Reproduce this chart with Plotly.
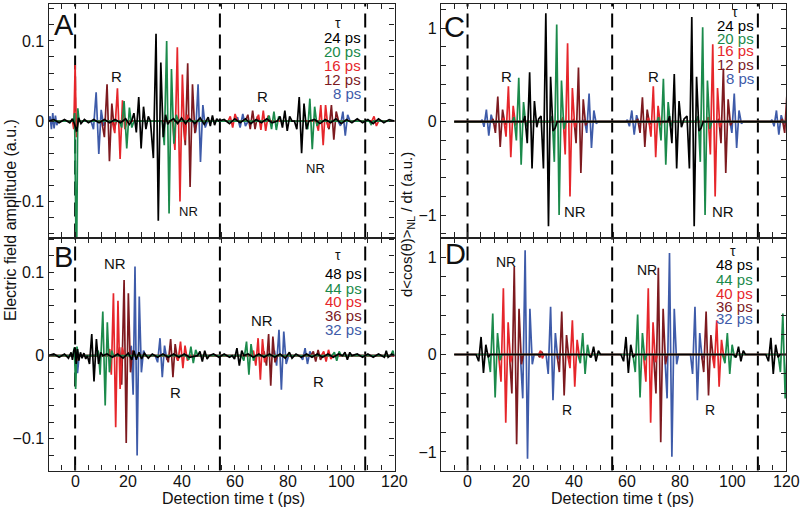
import plotly.graph_objects as go

W, H = 802, 510
FONT = "Liberation Sans, Arial, Helvetica, sans-serif"

# ---------------- colours / labels ----------------
COLORS = ["#3e5ba9", "#7d1a1f", "#e6262b", "#1b8a4b", "#000000"]   # drawn in this order
TAU_TOP = ["8 ps", "12 ps", "16 ps", "20 ps", "24 ps"]
TAU_BOT = ["32 ps", "36 ps", "40 ps", "44 ps", "48 ps"]

X_TICKS = list(range(-10, 121, 5))
X_LABEL_VALS = [0, 20, 40, 60, 80, 100, 120]
X_LABELS = ["0", "20", "40", "60", "80", "100", "120"]
Y_TICKS_L = [-0.14, -0.12, -0.10, -0.08, -0.06, -0.04, -0.02, 0.0, 0.02, 0.04, 0.06, 0.08, 0.10, 0.12, 0.14]
Y_LABELS_L = {-0.10: "\u22120.1", 0.0: "0", 0.10: "0.1"}
Y_TICKS_R = [-1.2, -1.0, -0.8, -0.6, -0.4, -0.2, 0.0, 0.2, 0.4, 0.6, 0.8, 1.0, 1.2]
Y_LABELS_R = {-1.0: "\u22121", 0.0: "0", 1.0: "1"}

DASH_L = [0, 54.4, 109.0]
DASH_R = [0, 54.5, 109.4]

# ---------------- panel A (experiment, tau = 8..24 ps) ----------------
A8 = [(-10, 0), (-9.4, 0.006), (-8.9, -0.01), (-8.4, 0.01), (-7.9, -0.009), (-7.4, 0.007), (-6.9, -0.005), (-6.3, 0),
      (-0.5, 0), (0.1, 0.01), (0.6, -0.008), (1.1, 0),
      (6.0, 0), (6.9, -0.01), (7.9, 0.036), (8.9, -0.041), (9.8, 0.014), (10.7, -0.006), (11.5, 0),
      (44.4, 0), (45.3, -0.014), (46.2, 0.046), (47.1, -0.051), (48.0, 0.02), (48.9, -0.008), (49.7, 0),
      (60.0, 0), (61.0, 0.005), (62.0, -0.008), (63.0, 0.009), (64.0, -0.006), (65.0, 0),
      (98.8, 0), (99.7, -0.006), (100.6, 0.012), (101.5, -0.018), (102.4, 0.008), (103.3, 0), (120, 0)]
A12 = [(-10, 0), (10.0, 0), (11.0, -0.02), (12.0, 0.046), (12.9, -0.05), (13.8, 0.022), (14.7, -0.01), (15.5, 0),
       (40.6, 0), (41.4, -0.03), (42.3, 0.072), (43.2, -0.082), (44.1, 0.046), (45.0, -0.015), (45.8, 0),
       (64.0, 0), (64.9, 0.008), (65.8, -0.01), (66.7, 0.013), (67.6, -0.01), (68.5, 0.006), (69.4, 0),
       (94.5, 0), (95.4, -0.01), (96.3, 0.02), (97.2, -0.023), (98.1, 0.012), (99.0, 0), (120, 0)]
A16 = [(-10, 0), (-1.0, 0), (-0.5, -0.01), (0.0, 0.07), (0.5, -0.02), (1.0, 0),
       (13.9, 0), (14.9, -0.015), (15.9, 0.041), (16.9, -0.047), (17.8, 0.026), (18.7, -0.01), (19.5, 0),
       (36.6, 0), (37.5, -0.036), (38.4, 0.092), (39.4, -0.1), (40.3, 0.058), (41.2, -0.024), (42.1, 0.008), (43.0, 0),
       (57.5, 0), (58.3, 0.006), (59.2, -0.008), (60.1, 0.009), (61.0, 0),
       (68.0, 0), (68.9, 0.008), (69.8, -0.011), (70.7, 0.013), (71.6, -0.012), (72.5, 0.007), (73.4, 0),
       (90.5, 0), (91.4, -0.012), (92.3, 0.02), (93.2, -0.03), (94.1, 0.02), (95.0, -0.008), (95.9, 0),
       (111.5, 0), (112.3, 0.006), (113.2, -0.006), (114.0, 0), (120, 0)]
A20 = [(-10, 0), (-0.6, 0), (-0.2, 0.01), (0.5, -0.2), (1.0, 0.016), (1.5, 0),
       (16.6, 0), (17.5, -0.008), (18.4, 0.025), (19.4, -0.034), (20.4, 0.017), (21.3, -0.008), (22.1, 0),
       (32.7, 0), (33.5, -0.03), (34.4, 0.1), (35.3, -0.115), (36.2, 0.065), (37.1, -0.028), (38.0, 0.008), (38.8, 0),
       (72.0, 0), (72.9, 0.007), (73.8, -0.01), (74.7, 0.012), (75.6, -0.011), (76.5, 0.006), (77.4, 0),
       (86.5, 0), (87.4, -0.01), (88.2, 0.028), (89.1, -0.035), (90.0, 0.018), (90.9, -0.006), (91.8, 0),
       (110.5, 0), (111.2, -0.004), (112.0, 0), (120, 0)]
A24 = [(-10, 0), (-8, 0.002), (-6, -0.002), (-4, 0.002), (-2, -0.002), (-1, 0.003), (-0.3, -0.003), (0.6, -0.013),
       (1.3, 0.004), (2.2, -0.003), (3.5, 0.002), (5, -0.002), (7, 0.002), (9, -0.002), (11, 0.002), (13, -0.002),
       (15, 0.002), (17, -0.002), (19, 0.003), (20.4, -0.004),
       (21.2, 0), (22.1, 0.01), (23.0, -0.014), (23.9, 0.03), (24.8, -0.034), (25.7, 0.018), (26.6, -0.01), (27.5, 0.006), (28.3, 0),
       (29.4, -0.046), (30.4, 0.109), (31.25, -0.124), (32.2, 0.073), (33.1, -0.02), (34.0, 0.008), (34.8, -0.004), (35.6, 0),
       (37, 0.003), (38.5, -0.003), (40, 0.004), (41.5, -0.003), (43, 0.003), (45, -0.003), (47, 0.004), (48.5, -0.004),
       (50, 0.005), (50.8, -0.006), (51.6, 0.007), (52.4, -0.005), (53.2, 0.003), (54, 0),
       (56, 0.002), (58, -0.003), (60, 0.003), (62, -0.002), (64, 0.003), (66, -0.003), (68, 0.002), (70, -0.002),
       (72, 0.003), (74, -0.002),
       (76.0, 0), (77.0, 0.006), (77.9, -0.008), (78.8, 0.013), (79.7, -0.012), (80.6, 0.006), (81.5, 0),
       (82.4, 0), (83.3, -0.01), (84.2, 0.03), (85.1, -0.04), (86.0, 0.022), (86.9, -0.01), (87.8, 0),
       (90, 0.002), (92, -0.003), (94, 0.002), (96, -0.002), (98, 0.003), (100, -0.003), (102, 0.002), (104, -0.002),
       (106, 0.003), (108, -0.002), (110, 0.002), (112, -0.003), (114, 0.003), (116, -0.002), (118, 0.002), (120, 0)]

# ---------------- panel B (experiment, tau = 32..48 ps) ----------------
B32 = [(-10, 0), (-0.5, 0), (0.4, 0.005), (0.9, -0.021), (1.5, 0),
       (20.4, 0), (21.1, 0.012), (21.8, -0.047), (22.5, 0.107), (23.3, -0.12), (24.1, 0.071), (24.9, -0.02), (25.7, 0.006), (26.5, 0),
       (30.1, 0), (31.0, -0.008), (31.9, 0.021), (32.75, -0.026), (33.6, 0.012), (34.5, -0.005), (35.3, 0),
       (74.0, 0), (74.9, 0.006), (75.7, -0.012), (76.6, 0.031), (77.5, -0.041), (78.4, 0.029), (79.3, -0.01), (80.2, 0),
       (84.5, 0), (85.5, -0.005), (86.4, 0.009), (87.3, -0.01), (88.2, 0.005), (89.0, 0), (120, 0)]
B36 = [(-10, 0), (16.0, 0), (16.7, 0.01), (17.5, -0.035), (18.4, 0.091), (19.2, -0.105), (20.0, 0.075), (20.8, -0.02), (21.6, 0.006), (22.4, 0),
       (34.2, 0), (35.0, -0.008), (35.9, 0.02), (36.75, -0.026), (37.6, 0.014), (38.5, -0.006), (39.3, 0),
       (70.2, 0), (71.0, 0.005), (71.9, -0.012), (72.7, 0.026), (73.5, -0.036), (74.3, 0.023), (75.1, -0.008), (76.0, 0),
       (88.6, 0), (89.5, 0.005), (90.4, -0.007), (91.3, 0.007), (92.2, -0.005), (93.0, 0), (120, 0)]
B40 = [(-10, 0), (-0.5, 0), (0.3, 0.008), (0.8, -0.006), (1.3, 0),
       (12.2, 0), (13.0, 0.008), (13.6, -0.023), (14.4, 0.075), (15.25, -0.086), (16.1, 0.066), (16.9, -0.04), (17.7, 0.01), (18.5, 0),
       (37.8, 0), (38.7, -0.006), (39.6, 0.017), (40.5, -0.015), (41.3, 0.012), (42.2, -0.006), (43.0, 0),
       (66.2, 0), (67.0, 0.006), (67.9, -0.012), (68.75, 0.021), (69.6, -0.029), (70.4, 0.02), (71.2, -0.008), (72.0, 0),
       (92.5, 0), (93.4, 0.005), (94.3, -0.007), (95.2, 0.007), (96.1, -0.004), (97.0, 0), (120, 0)]
B44 = [(-10, 0), (-0.8, 0), (-0.3, 0.01), (0.2, -0.04), (0.7, 0.011), (1.2, 0),
       (8.0, 0), (8.7, 0.006), (9.4, -0.023), (10.4, 0.053), (11.3, -0.06), (12.1, 0.04), (12.9, -0.02), (13.7, 0.006), (14.4, 0),
       (41.8, 0), (42.7, -0.005), (43.5, 0.011), (44.4, -0.009), (45.3, 0.007), (46.1, 0),
       (62.5, 0), (63.4, -0.006), (64.4, 0.017), (65.3, -0.023), (66.1, 0.014), (67.0, -0.006), (67.8, 0),
       (96.5, 0), (97.4, 0.004), (98.3, -0.006), (99.2, 0.005), (100.0, 0),
       (118.6, 0), (119.4, 0.006), (120, 0)]
B48 = [(-10, 0), (-8, 0.002), (-6, -0.002), (-4, 0.002), (-2.5, -0.003), (-1.5, 0.004), (-1, -0.005), (-0.5, 0.006),
       (0, 0.01), (0.4, -0.01), (0.9, 0.008), (1.4, -0.006), (2, 0.004), (2.6, -0.003), (3.3, 0.003), (4.0, -0.004),
       (4.6, 0), (5.4, -0.01), (6.25, 0.026), (7.1, -0.031), (8.0, 0.02), (8.8, -0.01), (9.6, 0.004), (10.4, 0),
       (12, 0.002), (14, -0.002), (16, 0.002), (18, -0.003), (20, 0.003), (21.3, -0.005), (22.1, 0.006), (23, -0.005),
       (24, 0.004), (25, -0.004), (26, 0.003), (27.5, -0.003), (29, 0.002), (31, -0.002), (33, 0.002), (35, -0.002),
       (37, 0.002), (39, -0.002), (41, 0.002), (43, -0.002),
       (46, 0), (46.9, 0.005), (47.8, -0.007), (48.7, 0.006), (49.6, -0.004), (50.4, 0),
       (52, 0.002), (54, -0.002), (56, 0.002), (58, -0.002),
       (59.0, 0), (59.9, -0.004), (60.8, 0.009), (61.7, -0.012), (62.6, 0.006), (63.4, 0),
       (65, 0.002), (67, -0.002), (69, 0.002), (71, -0.002), (73, 0.002), (75, -0.002), (77, 0.002), (79, -0.003),
       (80.5, 0.004), (81.5, -0.003), (83, 0.002), (85, -0.002), (87, 0.002), (89, -0.002), (91, 0.002), (93, -0.002),
       (95, 0.002), (97, -0.002), (99, 0.002),
       (100.5, 0), (101.4, 0.004), (102.3, -0.005), (103.2, 0.004), (104.0, 0),
       (106, 0.002), (108, -0.002), (110, 0.002), (112, -0.002), (114, 0.002), (116.2, -0.002), (116.9, 0.006),
       (117.6, -0.002), (119, 0.002), (120, 0)]

# ---------------- panel C (simulation, tau = 8..24 ps) ----------------
C8 = [(-5, 0),
      (5.0, 0), (5.5, 0.02), (6.2, -0.055), (7.1, 0.13), (8.0, -0.15), (8.9, 0.075), (9.8, -0.02), (10.5, 0),
      (43.4, 0), (44.1, 0.02), (44.9, -0.12), (45.8, 0.3), (46.7, -0.28), (47.6, 0.12), (48.5, -0.02), (49.2, 0),
      (59.7, 0), (60.2, 0.02), (61.0, -0.05), (61.9, 0.12), (62.8, -0.14), (63.7, 0.07), (64.6, -0.02), (65.3, 0),
      (98.1, 0), (98.8, 0.02), (99.6, -0.12), (100.5, 0.3), (101.4, -0.28), (102.3, 0.12), (103.2, -0.02), (103.9, 0),
      (114.2, 0), (114.7, 0.02), (115.5, -0.05), (116.4, 0.12), (117.3, -0.14), (118.2, 0.07), (119.1, -0.02), (119.8, 0), (120, 0)]
C12 = [(-5, 0),
       (9.0, 0), (9.6, 0.03), (10.5, -0.12), (11.4, 0.27), (12.3, -0.27), (13.2, 0.13), (14.1, -0.03), (14.8, 0),
       (39.4, 0), (40.1, 0.03), (40.9, -0.23), (41.8, 0.58), (42.7, -0.55), (43.6, 0.24), (44.5, -0.04), (45.2, 0),
       (63.5, 0), (64.1, 0.03), (65.0, -0.12), (65.9, 0.26), (66.8, -0.27), (67.7, 0.13), (68.6, -0.03), (69.3, 0),
       (94.0, 0), (94.7, 0.03), (95.5, -0.23), (96.4, 0.57), (97.3, -0.55), (98.2, 0.24), (99.1, -0.04), (99.8, 0),
       (118.0, 0), (118.6, 0.03), (119.5, -0.12), (120.3, 0.27)]
C16 = [(-5, 0),
       (13.0, 0), (13.6, 0.04), (14.5, -0.16), (15.4, 0.38), (16.3, -0.38), (17.2, 0.17), (18.1, -0.04), (18.8, 0),
       (35.3, 0), (36.0, 0.05), (36.8, -0.35), (37.7, 0.84), (38.6, -0.8), (39.5, 0.36), (40.4, -0.06), (41.1, 0),
       (67.6, 0), (68.2, 0.04), (69.1, -0.16), (70.0, 0.38), (70.9, -0.38), (71.8, 0.17), (72.7, -0.04), (73.4, 0),
       (90.0, 0), (90.7, 0.05), (91.5, -0.35), (92.4, 0.83), (93.3, -0.8), (94.2, 0.36), (95.1, -0.06), (95.8, 0), (120, 0)]
C20 = [(-5, 0),
       (16.9, 0), (17.5, 0.05), (18.4, -0.2), (19.3, 0.47), (20.2, -0.46), (21.1, 0.21), (22.0, -0.05), (22.7, 0),
       (31.2, 0), (31.9, 0.06), (32.7, -0.43), (33.6, 1.04), (34.5, -1.0), (35.4, 0.44), (36.3, -0.08), (37.0, 0),
       (71.4, 0), (72.0, 0.05), (72.9, -0.2), (73.8, 0.46), (74.7, -0.46), (75.6, 0.21), (76.5, -0.05), (77.2, 0),
       (86.2, 0), (86.9, 0.06), (87.7, -0.43), (88.6, 1.01), (89.5, -1.0), (90.4, 0.44), (91.3, -0.08), (92.0, 0), (120, 0)]
C24 = [(-5, 0),
       (21.0, 0), (21.6, 0.06), (22.5, -0.23), (23.4, 0.53), (24.3, -0.5), (25.2, 0.22), (26.1, -0.06), (26.8, 0.03),
       (27.7, 0.06), (28.6, -0.5), (29.5, 1.16), (30.5, -1.12), (31.3, 0.48), (32.2, -0.1), (33.0, -0.07), (33.8, 0),
       (75.5, 0), (76.1, 0.06), (77.0, -0.23), (77.9, 0.51), (78.8, -0.5), (79.7, 0.22), (80.6, -0.06), (81.6, 0.03),
       (82.7, 0.06), (83.6, -0.5), (84.5, 1.12), (85.4, -1.12), (86.3, 0.48), (87.2, -0.1), (88.0, -0.07), (88.8, 0), (120, 0)]

# ---------------- panel D (simulation, tau = 32..48 ps) ----------------
D32 = [(-5, 0),
       (19.9, 0), (20.8, -0.45), (21.7, 1.07), (22.6, -1.07), (23.5, 0.47), (24.4, -0.1), (25.1, 0),
       (29.6, 0), (30.4, -0.2), (31.3, 0.49), (32.2, -0.47), (33.1, 0.22), (34.0, -0.05), (34.7, 0),
       (74.3, 0), (75.2, -0.45), (76.1, 1.04), (77.0, -1.05), (77.9, 0.47), (78.8, -0.1), (79.5, 0),
       (84.0, 0), (84.8, -0.2), (85.7, 0.49), (86.6, -0.47), (87.5, 0.22), (88.4, -0.05), (89.1, 0), (120, 0)]
D36 = [(-5, 0),
       (15.8, 0), (16.7, -0.4), (17.6, 0.9), (18.5, -0.92), (19.4, 0.47), (20.3, -0.1), (21.0, 0),
       (26.5, 0), (27.2, -0.03), (27.9, 0.03), (28.5, 0),
       (33.7, 0), (34.6, -0.18), (35.5, 0.44), (36.4, -0.42), (37.3, 0.2), (38.2, -0.05), (38.9, 0),
       (70.1, 0), (71.0, -0.4), (71.9, 0.89), (72.8, -0.9), (73.7, 0.47), (74.6, -0.1), (75.3, 0),
       (88.2, 0), (89.0, -0.18), (89.9, 0.44), (90.8, -0.42), (91.7, 0.2), (92.6, -0.05), (93.3, 0), (120, 0)]
D40 = [(-5, 0),
       (11.7, 0), (12.6, -0.28), (13.5, 0.68), (14.4, -0.7), (15.3, 0.33), (16.2, -0.08), (16.9, 0),
       (26.8, 0), (27.5, 0.04), (28.2, -0.04), (28.8, 0),
       (37.7, 0), (38.6, -0.14), (39.5, 0.35), (40.4, -0.33), (41.3, 0.15), (42.2, -0.04), (42.9, 0),
       (66.3, 0), (67.2, -0.28), (68.1, 0.68), (69.0, -0.7), (69.9, 0.33), (70.8, -0.08), (71.5, 0),
       (92.2, 0), (93.0, -0.14), (93.9, 0.35), (94.8, -0.33), (95.7, 0.15), (96.6, -0.04), (97.3, 0), (120, 0)]
D44 = [(-5, 0),
       (7.7, 0), (8.6, -0.18), (9.5, 0.42), (10.4, -0.44), (11.3, 0.22), (12.2, -0.06), (12.9, 0),
       (41.6, 0), (42.5, -0.09), (43.4, 0.22), (44.3, -0.2), (45.2, 0.1), (46.1, -0.03), (46.8, 0),
       (62.3, 0), (63.2, -0.18), (64.1, 0.41), (65.0, -0.44), (65.9, 0.22), (66.8, -0.06), (67.5, 0),
       (96.1, 0), (97.0, -0.09), (97.9, 0.22), (98.8, -0.2), (99.7, 0.1), (100.6, -0.03), (101.3, 0),
       (117.0, 0), (117.9, -0.18), (118.8, 0.42), (119.7, -0.45), (120.6, 0.22)]
D48 = [(-5, 0),
       (3.2, 0), (4.2, -0.07), (5.1, 0.18), (6.0, -0.19), (6.9, 0.1), (7.8, -0.03), (8.5, 0),
       (45.7, 0), (46.6, -0.03), (47.5, 0.08), (48.4, -0.07), (49.3, 0.04), (50.1, 0),
       (57.8, 0), (58.8, -0.07), (59.7, 0.18), (60.6, -0.19), (61.5, 0.1), (62.4, -0.03), (63.1, 0),
       (100.3, 0), (101.2, -0.03), (102.1, 0.08), (103.0, -0.07), (103.9, 0.04), (104.7, 0),
       (112.4, 0), (113.4, -0.07), (114.3, 0.17), (115.2, -0.2), (116.1, 0.1), (117.0, -0.03), (117.7, 0), (120, 0)]


def pxx(x):
    return x / W


def pyy(y):
    return 1 - y / H


XL = [pxx(48.5), pxx(394.5)]
XR = [pxx(441), pxx(786)]
YT = [pyy(237.5), pyy(4)]
YB = [pyy(470.5), pyy(237.5)]

panels = [
    # name, xaxis, yaxis, x domain, y domain, y range, traces, bottom?, left?
    ("A", "x", "y", XL, YT, [-0.145, 0.146], [A8, A12, A16, A20, A24], False, True),
    ("B", "x2", "y2", XL, YB, [-0.138, 0.142], [B32, B36, B40, B44, B48], True, True),
    ("C", "x3", "y3", XR, YT, [-1.24, 1.26], [C8, C12, C16, C20, C24], False, False),
    ("D", "x4", "y4", XR, YB, [-1.19, 1.2], [D32, D36, D40, D44, D48], True, False),
]

fig = go.Figure()
layout = dict(width=W, height=H, margin=dict(l=0, r=0, t=0, b=0),
              paper_bgcolor="white", plot_bgcolor="white", showlegend=False,
              font=dict(family=FONT, color="#111"))
shapes = []
ann = []
AXC = "#222222"


def text(x, y, s, size, color="#111", xanchor="center", angle=0, xref="paper"):
    ann.append(dict(x=(x if xref != "paper" else pxx(x)), y=pyy(y), xref=xref, yref="paper", text=s,
                    showarrow=False, xanchor=xanchor, yanchor="middle", textangle=angle, borderpad=0,
                    font=dict(size=size, color=color, family=FONT)))


for name, xa, ya, xd, yd, yr, series, bottom, left in panels:
    for pts, col in zip(series, COLORS):
        fig.add_trace(go.Scatter(x=[p[0] for p in pts], y=[p[1] for p in pts], mode="lines",
                                 line=dict(color=col, width=1.7), xaxis=xa, yaxis=ya,
                                 hoverinfo="skip"))
    xkey = "xaxis" + xa[1:]
    ykey = "yaxis" + ya[1:]
    ytv = Y_TICKS_L if left else Y_TICKS_R
    ylab = Y_LABELS_L if left else Y_LABELS_R
    ytext = [ylab.get(round(v, 2), " ") for v in ytv]
    layout[xkey] = dict(domain=xd, anchor=ya, range=[-10, 120], tickmode="array", tickvals=X_TICKS,
                        showticklabels=False, ticks="inside", ticklen=5, tickwidth=1, tickcolor=AXC,
                        showline=True, linecolor=AXC, linewidth=1.3, mirror="ticks",
                        showgrid=False, zeroline=False, automargin=False)
    layout[ykey] = dict(domain=yd, anchor=xa, range=yr, tickmode="array", tickvals=ytv,
                        ticktext=ytext, ticks="inside", ticklen=5, tickwidth=1, tickcolor=AXC,
                        showline=True, linecolor=AXC, linewidth=1.3, mirror="ticks",
                        showgrid=False, zeroline=False, automargin=False,
                        tickfont=dict(size=16, family=FONT, color="#111"))
    for xv in (DASH_L if left else DASH_R):
        shapes.append(dict(type="line", xref=xa, yref=ya + " domain", x0=xv, x1=xv, y0=0, y1=1,
                           line=dict(color="black", width=2, dash="14px,7px"), layer="below"))
    if bottom:
        for v, lab in zip(X_LABEL_VALS, X_LABELS):
            text(v, 481, lab, 16, xref=xa)

# panel letters
text(64, 25, "A", 29)
text(63, 257, "B", 29)
text(454, 27, "C", 29)
text(455, 254, "D", 29)

# R / NR labels
text(117, 76, "R", 15)
text(188, 211, "NR", 13)
text(262, 96, "R", 15)
text(315, 169, "NR", 13)
text(115, 263, "NR", 15)
text(175, 392, "R", 15)
text(262, 320, "NR", 15)
text(318, 381, "R", 15)
text(506, 76, "R", 15)
text(575, 211, "NR", 15)
text(653, 76, "R", 15)
text(723, 211, "NR", 15)
text(506, 262, "NR", 14)
text(567, 410, "R", 14)
text(647, 270, "NR", 14)
text(710, 410, "R", 14)

# tau legends (listed top to bottom: black, green, red, dark red, blue)
LEG_ORDER = [4, 3, 2, 1, 0]
for (tx, ty, rx, ys, labels) in [
        (338, 23, 362, [38, 52, 66, 79, 93], TAU_TOP),
        (338, 255, 363, [273, 288, 301, 315, 329], TAU_BOT),
        (735, 12, 755, [25, 39, 51, 64, 78], TAU_TOP),
        (733, 251, 754, [264, 279, 293, 306, 318], TAU_BOT)]:
    text(tx, ty, "\u03c4", 14)
    for yy, idx in zip(ys, LEG_ORDER):
        text(rx, yy, labels[idx], 15, color=COLORS[idx], xanchor="right")

# axis titles
text(233, 498, "Detection time t (ps)", 16)
text(622, 498, "Detection time t (ps)", 16)
text(10, 220, "Electric field amplitude (a.u.)", 16, angle=-90)
text(407, 225, "d&lt;cos(\u03b8)&gt;<sub>NL</sub> / dt (a.u.)", 15, angle=-90)

layout["shapes"] = shapes
layout["annotations"] = ann
fig.update_layout(**layout)
fig.write_html("out.html", config={"displayModeBar": False},
               post_script="document.body.style.margin='0';document.body.style.overflow='hidden';")
